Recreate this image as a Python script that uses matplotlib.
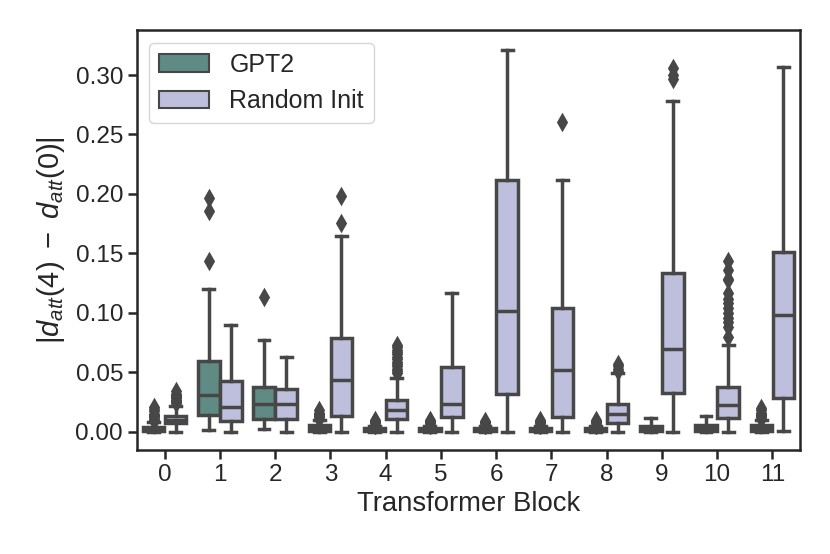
import matplotlib
matplotlib.use("Agg")
import matplotlib.pyplot as plt
from matplotlib.patches import Patch

plt.rcParams['font.family'] = ['Liberation Sans', 'DejaVu Sans']
plt.rcParams['mathtext.fontset'] = 'custom'
plt.rcParams['mathtext.rm'] = 'Liberation Sans'
plt.rcParams['mathtext.it'] = 'Liberation Sans:italic'

blocks = list(range(12))
series_names = ["GPT2", "Random Init"]

# box stats, one entry per transformer block
gpt2_q1 = [0.001, 0.014, 0.011, 0.001, 0.0005, 0.0005, 0.0005, 0.0005, 0.0005, 0.001, 0.001, 0.001]
gpt2_med = [0.002, 0.031, 0.0233, 0.003, 0.0015, 0.0015, 0.0015, 0.0015, 0.0015, 0.002, 0.003, 0.003]
gpt2_q3 = [0.004, 0.0595, 0.0376, 0.006, 0.003, 0.003, 0.003, 0.003, 0.003, 0.005, 0.006, 0.006]
gpt2_lo = [0.0, 0.0015, 0.0023, 0.0, 0.0, 0.0, 0.0, 0.0, 0.0, 0.0, 0.0, 0.0]
gpt2_hi = [0.008, 0.1198, 0.0771, 0.010, 0.005, 0.005, 0.005, 0.005, 0.005, 0.0115, 0.013, 0.010]
gpt2_fliers = [
    [0.009, 0.010, 0.011, 0.012, 0.013, 0.014, 0.015, 0.017, 0.019, 0.021],
    [0.1436, 0.1856, 0.1968],
    [0.1133],
    [0.011, 0.012, 0.013, 0.014, 0.015, 0.016, 0.018],
    [0.006, 0.007, 0.008, 0.009, 0.010],
    [0.006, 0.007, 0.008, 0.009, 0.010],
    [0.006, 0.007, 0.008, 0.009],
    [0.006, 0.007, 0.008, 0.009, 0.010],
    [0.006, 0.007, 0.008, 0.009, 0.010],
    [],
    [],
    [0.011, 0.012, 0.013, 0.014, 0.015, 0.016, 0.018, 0.020],
]

rand_q1 = [0.007, 0.009, 0.0103, 0.0132, 0.0107, 0.0124, 0.0314, 0.0124, 0.0073, 0.0328, 0.0118, 0.0283]
rand_med = [0.0096, 0.0208, 0.0233, 0.0435, 0.0183, 0.0233, 0.1015, 0.0516, 0.0151, 0.0696, 0.0225, 0.0981]
rand_q3 = [0.0128, 0.0426, 0.036, 0.0788, 0.027, 0.0544, 0.2114, 0.1043, 0.0237, 0.1337, 0.0376, 0.1514]
rand_lo = [0.0, 0.0, 0.0, 0.0, 0.0, 0.0, 0.0, 0.0, 0.0, 0.0, 0.0, 0.001]
rand_hi = [0.022, 0.0898, 0.0628, 0.1643, 0.0454, 0.1167, 0.321, 0.2114, 0.0496, 0.278, 0.0729, 0.307]
rand_fliers = [
    [0.024, 0.025, 0.026, 0.027, 0.028, 0.029, 0.030, 0.031, 0.032, 0.034],
    [],
    [],
    [0.1758, 0.1982],
    [0.049, 0.051, 0.053, 0.055, 0.057, 0.059, 0.061, 0.063, 0.065, 0.067, 0.069, 0.071, 0.073],
    [],
    [],
    [0.2607],
    [0.051, 0.053, 0.055, 0.057],
    [0.297, 0.300, 0.306],
    [0.080, 0.088, 0.092, 0.096, 0.100, 0.104, 0.108, 0.112, 0.117, 0.128, 0.1284, 0.136, 0.1436],
    [],
]

colors = ["#5f8b84", "#bdbfdd"]
gray = "#474747"
ink = "#262626"


def make_stats(q1, med, q3, lo, hi, fl):
    return [dict(q1=q1[i], med=med[i], q3=q3[i], whislo=lo[i], whishi=hi[i],
                 fliers=fl[i]) for i in range(len(q1))]


fig = plt.figure(figsize=(8.3, 5.54), dpi=100)
ax = fig.add_axes([0.165, 0.1877, 0.7988, 0.758])

lw = 2.5
groups = [
    make_stats(gpt2_q1, gpt2_med, gpt2_q3, gpt2_lo, gpt2_hi, gpt2_fliers),
    make_stats(rand_q1, rand_med, rand_q3, rand_lo, rand_hi, rand_fliers),
]
offsets = [-0.2, 0.2]
for stats, off, col in zip(groups, offsets, colors):
    ax.bxp(stats, positions=[b + off for b in blocks], widths=0.39,
           patch_artist=True, manage_ticks=False,
           boxprops=dict(facecolor=col, edgecolor=gray, linewidth=lw),
           medianprops=dict(color=gray, linewidth=lw),
           whiskerprops=dict(color=gray, linewidth=lw),
           capprops=dict(color=gray, linewidth=lw),
           flierprops=dict(marker='d', markersize=7.5, markerfacecolor=gray,
                           markeredgecolor=gray, markeredgewidth=2.0))

ax.set_xlim(-0.5, 11.5)
ax.set_ylim(-0.0154, 0.3378)
ax.set_xticks(blocks)
ax.set_xticklabels([str(b) for b in blocks])
ax.set_yticks([0.0, 0.05, 0.10, 0.15, 0.20, 0.25, 0.30])
ax.set_yticklabels(["0.00", "0.05", "0.10", "0.15", "0.20", "0.25", "0.30"])
ax.tick_params(labelsize=17.5, length=6.5, width=1.8, colors=ink)
for sp in ax.spines.values():
    sp.set_linewidth(1.8)
    sp.set_color(ink)

ax.set_xlabel("Transformer Block", fontsize=19.8, color=ink)
ax.set_ylabel(r"$|d_{att}(4)\ -\ d_{att}(0)|$", fontsize=21, color=ink, labelpad=6)

handles = [Patch(facecolor=c, edgecolor=gray, linewidth=1.5, label=n)
           for c, n in zip(colors, series_names)]
leg = ax.legend(handles=handles, loc="upper left", fontsize=18)
for t in leg.get_texts():
    t.set_color(ink)

fig.savefig("out.png", dpi=100)
